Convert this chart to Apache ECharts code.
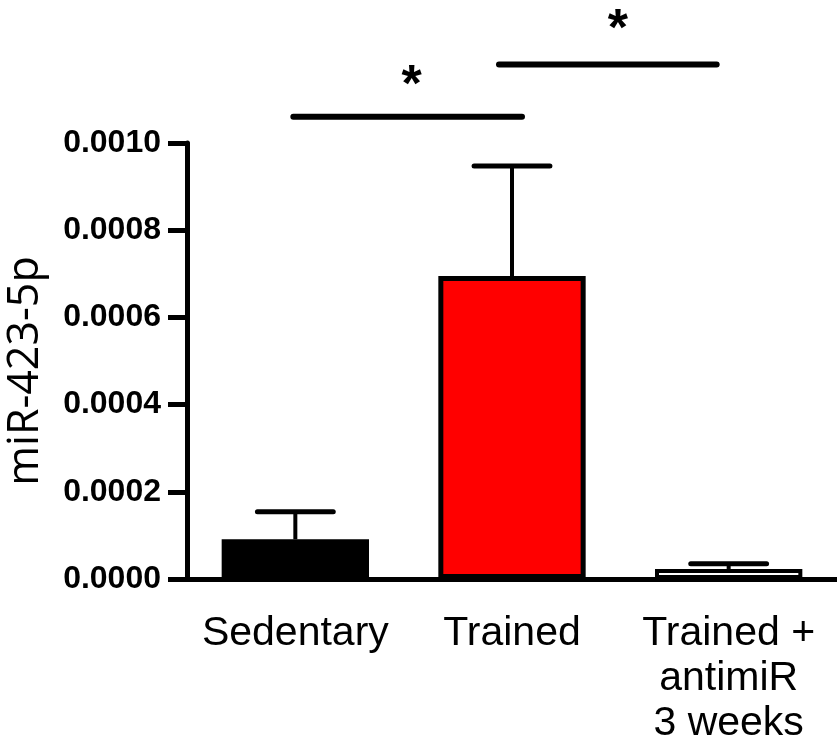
<!DOCTYPE html>
<html>
<head>
<meta charset="utf-8" />
<title>miR-423-5p</title>
<style>html,body{margin:0;padding:0;background:#fff}#chart{width:837px;height:749px}</style>
<script src="https://cdn.jsdelivr.net/npm/echarts@6.0.0/dist/echarts.min.js"></script>
</head>
<body>
<div id="chart"></div>
<script>
// data
const categories = ["Sedentary", "Trained", "Trained +\nantimiR\n3 weeks"];
const means = [0.000091, 0.000695, 0.000023];
const sems = [0.000063, 0.000252, 0.000012];
const barColors = ["#000000", "#ff0000", "#ffffff"];

// significance brackets: [fromIndex, toIndex, level]
const sigPairs = [[0, 1, 0.00106], [1, 2, 0.00118]];
const sigLabels = ["*", "*"];

const yMin = 0, yMax = 0.001, yStep = 0.0002;

const chart = echarts.init(document.getElementById("chart"), null, { renderer: "canvas" });

// small pixel nudges so the brackets sit like in the figure
const sigNudge = [[-2, 10], [-13, -12]];
const starNudge = [[4, -30], [10, -34]];

const option = {
  backgroundColor: "#fff",
  animation: false,
  grid: { left: 187, right: 0, top: 143, bottom: 170, containLabel: false, outerBoundsMode: "none" },
  xAxis: {
    type: "category",
    data: categories,
    axisLine: { lineStyle: { color: "#000", width: 5 } },
    axisTick: { show: false },
    axisLabel: {
      color: "#000", fontFamily: "Liberation Sans, Arial", fontSize: 41,
      lineHeight: 45, margin: 32, interval: 0
    }
  },
  yAxis: {
    type: "value",
    min: yMin, max: yMax, interval: yStep,
    name: "miR-423-5p",
    nameLocation: "middle",
    nameRotate: 90,
    nameGap: 140,
    nameTextStyle: { color: "#000", fontFamily: "Open Sans", fontSize: 43, padding: [0, 20, 0, 0] },
    splitLine: { show: false },
    axisLine: { show: true, lineStyle: { color: "#000", width: 5 } },
    axisTick: { show: true, length: 19, lineStyle: { color: "#000", width: 5 } },
    axisLabel: {
      color: "#000", fontFamily: "Liberation Sans, Arial", fontWeight: "bold",
      fontSize: 32, margin: 26,
      formatter: (v) => v.toFixed(4)
    }
  },
  series: [
    {
      type: "bar",
      barWidth: "68%",
      data: means.map((m, i) => ({
        value: m,
        itemStyle: { color: barColors[i], borderColor: "#000", borderWidth: i === 2 ? 4 : 5 }
      })),
      z: 2
    },
    {
      type: "custom",
      z: 3,
      data: means.map((m, i) => [i, m, sems[i]]),
      renderItem: function (params, api) {
        const base = api.coord([api.value(0), api.value(1)]);
        const top = api.coord([api.value(0), api.value(1) + api.value(2)]);
        const half = api.size([1, 0])[0] * 0.175;
        return {
          type: "group",
          children: [
            { type: "line", shape: { x1: base[0], y1: base[1], x2: top[0], y2: top[1] },
              style: { stroke: "#000", lineWidth: 4 } },
            { type: "line", shape: { x1: top[0] - half, y1: top[1], x2: top[0] + half, y2: top[1] },
              style: { stroke: "#000", lineWidth: 5, lineCap: "round" } }
          ]
        };
      }
    },
    {
      type: "custom",
      z: 4,
      clip: false,
      data: sigPairs.map((p, i) => [p[0], p[1], p[2], i]),
      renderItem: function (params, api) {
        const i = api.value(3);
        const a = api.coord([api.value(0), api.value(2)]);
        const b = api.coord([api.value(1), api.value(2)]);
        const x1 = a[0] + sigNudge[i][0], x2 = b[0] + sigNudge[i][1];
        const mid = (x1 + x2) / 2;
        return {
          type: "group",
          children: [
            { type: "line", shape: { x1: x1, y1: a[1], x2: x2, y2: a[1] },
              style: { stroke: "#000", lineWidth: 6, lineCap: "round" } },
            { type: "text", x: mid + starNudge[i][0], y: a[1] + starNudge[i][1],
              style: { text: sigLabels[i], fill: "#000", font: "bold 52px Liberation Sans",
                align: "center", verticalAlign: "middle" } }
          ]
        };
      }
    }
  ]
};

chart.setOption(option);
</script>
</body>
</html>
